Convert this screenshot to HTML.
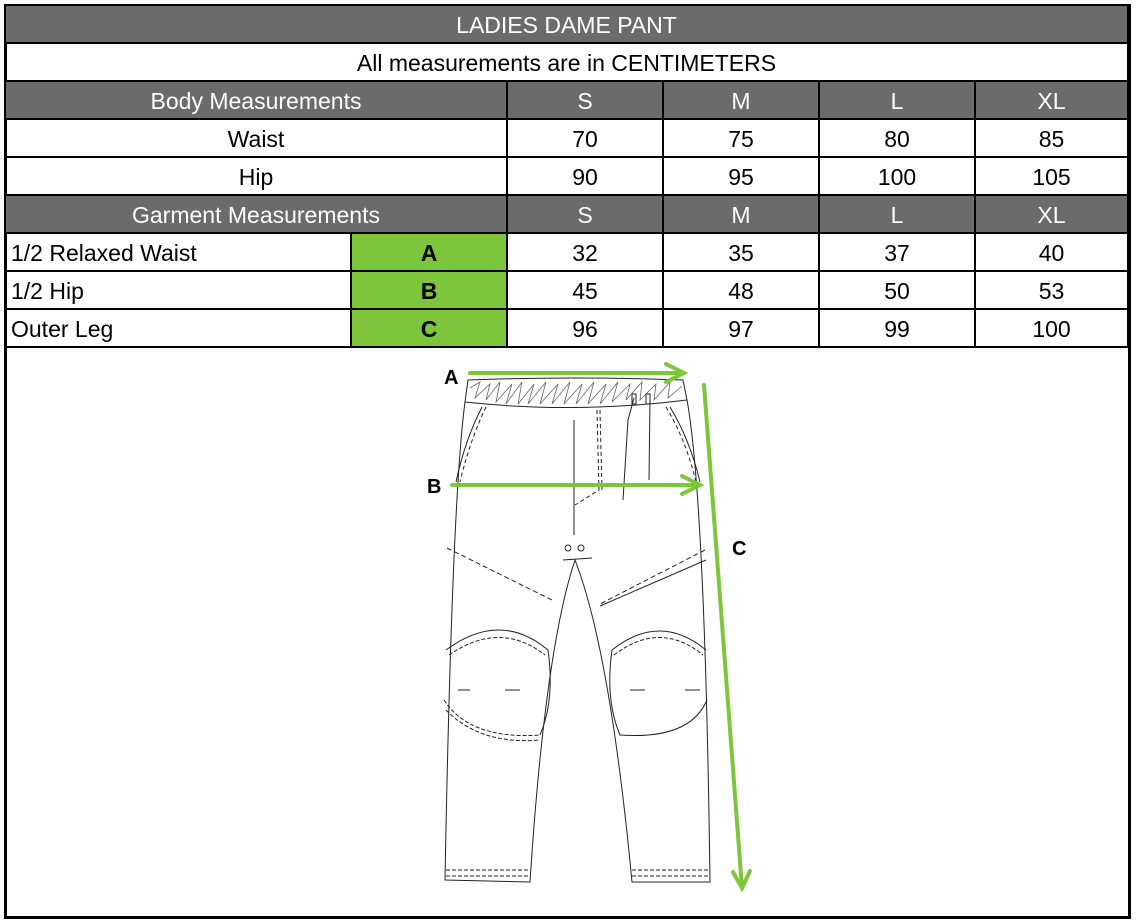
<!DOCTYPE html>
<html><head><meta charset="utf-8"><style>
body{margin:0;width:1136px;height:922px;background:#fff;position:relative;overflow:hidden;font-family:"Liberation Sans",sans-serif}
.c{position:absolute;box-sizing:border-box;display:flex;align-items:center;justify-content:center;font-size:23px;padding-top:3px;color:#000;border-right:2px solid #000;border-bottom:2px solid #000}
.g{background:#6b6b6b;color:#fff}
.l{justify-content:flex-start;padding-left:5px}
.gr{background:#7dc63c;font-weight:bold}
</style></head><body>
<div style="position:absolute;left:4px;top:4px;width:1127px;height:915px;border:3px solid #000;box-sizing:border-box"></div>
<div class="c g" style="left:6px;top:6px;width:1123px;height:38px">LADIES DAME PANT</div>
<div class="c" style="left:6px;top:44px;width:1123px;height:38px">All measurements are in CENTIMETERS</div>

<div class="c g" style="left:6px;top:82px;width:502px;height:38px">Body Measurements</div>
<div class="c g" style="left:508px;top:82px;width:156px;height:38px">S</div>
<div class="c g" style="left:664px;top:82px;width:156px;height:38px">M</div>
<div class="c g" style="left:820px;top:82px;width:156px;height:38px">L</div>
<div class="c g" style="left:976px;top:82px;width:153px;height:38px">XL</div>

<div class="c" style="left:6px;top:120px;width:502px;height:38px">Waist</div>
<div class="c" style="left:508px;top:120px;width:156px;height:38px">70</div>
<div class="c" style="left:664px;top:120px;width:156px;height:38px">75</div>
<div class="c" style="left:820px;top:120px;width:156px;height:38px">80</div>
<div class="c" style="left:976px;top:120px;width:153px;height:38px">85</div>

<div class="c" style="left:6px;top:158px;width:502px;height:38px">Hip</div>
<div class="c" style="left:508px;top:158px;width:156px;height:38px">90</div>
<div class="c" style="left:664px;top:158px;width:156px;height:38px">95</div>
<div class="c" style="left:820px;top:158px;width:156px;height:38px">100</div>
<div class="c" style="left:976px;top:158px;width:153px;height:38px">105</div>

<div class="c g" style="left:6px;top:196px;width:502px;height:38px">Garment Measurements</div>
<div class="c g" style="left:508px;top:196px;width:156px;height:38px">S</div>
<div class="c g" style="left:664px;top:196px;width:156px;height:38px">M</div>
<div class="c g" style="left:820px;top:196px;width:156px;height:38px">L</div>
<div class="c g" style="left:976px;top:196px;width:153px;height:38px">XL</div>

<div class="c l" style="left:6px;top:234px;width:346px;height:38px">1/2 Relaxed Waist</div>
<div class="c gr" style="left:352px;top:234px;width:156px;height:38px">A</div>
<div class="c" style="left:508px;top:234px;width:156px;height:38px">32</div>
<div class="c" style="left:664px;top:234px;width:156px;height:38px">35</div>
<div class="c" style="left:820px;top:234px;width:156px;height:38px">37</div>
<div class="c" style="left:976px;top:234px;width:153px;height:38px">40</div>

<div class="c l" style="left:6px;top:272px;width:346px;height:38px">1/2 Hip</div>
<div class="c gr" style="left:352px;top:272px;width:156px;height:38px">B</div>
<div class="c" style="left:508px;top:272px;width:156px;height:38px">45</div>
<div class="c" style="left:664px;top:272px;width:156px;height:38px">48</div>
<div class="c" style="left:820px;top:272px;width:156px;height:38px">50</div>
<div class="c" style="left:976px;top:272px;width:153px;height:38px">53</div>

<div class="c l" style="left:6px;top:310px;width:346px;height:38px">Outer Leg</div>
<div class="c gr" style="left:352px;top:310px;width:156px;height:38px">C</div>
<div class="c" style="left:508px;top:310px;width:156px;height:38px">96</div>
<div class="c" style="left:664px;top:310px;width:156px;height:38px">97</div>
<div class="c" style="left:820px;top:310px;width:156px;height:38px">99</div>
<div class="c" style="left:976px;top:310px;width:153px;height:38px">100</div>

<svg style="position:absolute;left:0;top:0" width="1136" height="922">
<g fill="none" stroke="#222" stroke-width="1">
<path d="M468 380 Q575 376 683 380 L687 400 Q575 414 465 402 Z"/>
<path d="M470 388 L480 382 L475 398 L490 384 L486 400 L500 382 L496 402 L512 384 L506 404 L522 382 L518 404 L534 384 L528 404 L546 382 L540 404 L558 384 L552 404 L570 382 L564 404 L582 384 L576 404 L594 382 L588 404 L606 384 L600 404 L618 382 L612 402 L630 384 L626 400 L642 382 L640 400 L656 384 L654 400 L670 382 L668 398 L682 386" stroke="#666" stroke-width="0.8"/>
<path d="M465 402 Q452 500 445 880 L530 882 Q545 650 575 560 Q610 650 632 882 L710 882 Q705 500 687 400"/>
<path d="M446 870 L530 870 M446 876 L530 876 M632 870 L710 870 M632 876 L710 876" stroke-dasharray="4 2"/>
<path d="M482 407 Q465 440 456 482 M670 407 Q690 440 700 482" />
<path d="M486 407 Q470 440 460 482 M666 407 Q686 440 696 482" stroke-dasharray="4 3"/>
<path d="M574 420 L574 535"/>
<path d="M597 410 L599 490 L575 505 M600 410 L602 490" stroke-dasharray="4 3"/>
<circle cx="568" cy="548" r="3"/><circle cx="581" cy="548" r="3"/>
<path d="M563 560 L592 558"/>
<path d="M634 398 L628 420 L623 500 M650 398 L649 480"/>
<rect x="632" y="394" width="4" height="10"/><rect x="646" y="394" width="4" height="10"/>
<path d="M447 548 L552 600 M705 550 L600 604" stroke-dasharray="5 3"/>
<path d="M600 606 L706 560"/>
<path d="M446 650 Q500 610 548 650 Q555 700 540 735"/>
<path d="M449 655 Q500 620 545 655" stroke-dasharray="4 2"/>
<path d="M444 700 Q470 740 540 735 M446 710 Q480 745 540 740" stroke-dasharray="4 2"/>
<path d="M458 690 L470 690 M505 690 L520 690 M630 690 L645 690 M685 690 L700 690"/>
<path d="M614 655 Q660 620 703 655" stroke-dasharray="4 2"/>
<path d="M612 650 Q660 612 706 650 M707 700 Q690 740 620 735 Q605 700 612 650"/>
</g>
<g stroke="#7dc63c" stroke-width="4" fill="none" stroke-linecap="round">
<path d="M470 373 L684 373 M666 364 L684 373 L666 382"/>
<path d="M452 485 L700 485 M682 476 L700 485 L682 494"/>
<path d="M704 385 L742 888 M733 872 L742 888 L750 871"/>
</g>
<g font-family="Liberation Sans,sans-serif" font-weight="bold" font-size="20" fill="#000">
<text x="444" y="384">A</text><text x="427" y="493">B</text><text x="732" y="555">C</text>
</g>
</svg>
</body></html>
